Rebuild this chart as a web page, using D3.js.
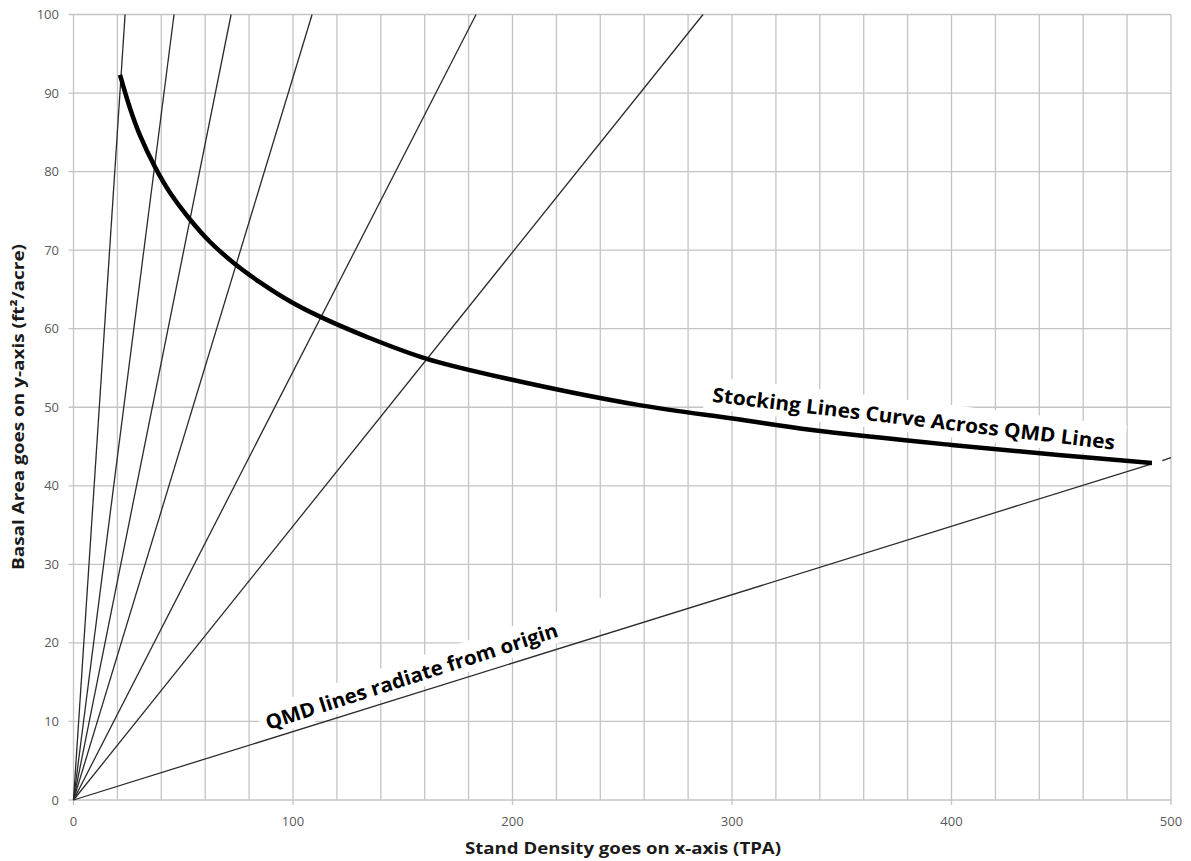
<!DOCTYPE html>
<html><head><meta charset="utf-8">
<script src="https://cdn.jsdelivr.net/npm/d3@7"></script>
<style>body{margin:0;background:#fff}svg{display:block}</style>
</head><body>
<svg id="chart" width="1191" height="861"></svg>
<script>
// ---- data ----
const xTicks = [0, 100, 200, 300, 400, 500];
const yTicks = [0, 10, 20, 30, 40, 50, 60, 70, 80, 90, 100];
const xMinorGrid = [20, 40, 60, 80, 120, 140, 160, 180, 220, 240, 260, 280, 320, 340, 360, 380, 420, 440, 460, 480];
// QMD lines: end points (TPA, BA); each starts at origin
const qmdEndTPA = [23.5, 45.8, 71.8, 108.7, 183.4, 286.8, 491.3];
const qmdEndBA  = [100, 100, 100, 100, 100, 100, 42.8];
const dashTPA = [496, 500];
const dashBA  = [43.2, 43.6];
// stocking curve
const curveTPA = [21.2, 25.7, 30.3, 37.1, 44, 53.1, 62, 73.3, 85, 98.6, 111.8, 133.3, 160.6, 198.3, 257.2, 302, 336.5, 400, 450, 491.3];
const curveBA  = [92.3, 88.1, 84.6, 80.6, 77.3, 73.9, 71.1, 68.3, 65.9, 63.5, 61.6, 59.0, 56.2, 53.6, 50.3, 48.5, 47.1, 45.2, 43.9, 42.9];
const xTitle = "Stand Density goes on x-axis (TPA)";
const yTitle = "Basal Area goes on y-axis (ft²/acre)";
const note1 = "Stocking Lines Curve Across QMD Lines";
const note2 = "QMD lines radiate from origin";

const svg = d3.select("#chart");
const x = d3.scaleLinear().domain([0, 500]).range([73.5, 1171]);
const y = d3.scaleLinear().domain([0, 100]).range([800, 14.5]);
const gridCol = "#c4c4c4";
const font = "'Open Sans', 'Noto Sans', sans-serif";

// grid
const g = svg.append("g");
g.selectAll("line.vmin").data(xMinorGrid).join("line")
  .attr("x1", d => x(d)).attr("x2", d => x(d)).attr("y1", y(0)).attr("y2", y(100))
  .attr("stroke", gridCol).attr("stroke-width", 1.3);
g.selectAll("line.vmaj").data(xTicks).join("line")
  .attr("x1", d => x(d)).attr("x2", d => x(d)).attr("y1", y(0) + 5).attr("y2", y(100))
  .attr("stroke", gridCol).attr("stroke-width", 1.3);
g.selectAll("line.h").data(yTicks).join("line")
  .attr("x1", x(0) - 5).attr("x2", x(500)).attr("y1", d => y(d)).attr("y2", d => y(d))
  .attr("stroke", gridCol).attr("stroke-width", 1.3);

// tick labels
svg.append("g").selectAll("text").data(xTicks).join("text")
  .attr("x", d => x(d)).attr("y", 826).attr("text-anchor", "middle")
  .attr("font-family", font).attr("font-size", 13).attr("fill", "#595959").text(d => d);
svg.append("g").selectAll("text").data(yTicks).join("text")
  .attr("x", 59).attr("y", d => y(d) + 4.5).attr("text-anchor", "end")
  .attr("font-family", font).attr("font-size", 13).attr("fill", "#595959").text(d => d);

// annotation backgrounds (white boxes) behind data
const a1 = {tpa: 290.8, ba: 50.7, ang: 6.8, len: 405};
const a2 = {tpa: 88.7, ba: 8.9, ang: -17.85, len: 306};
svg.append("rect")
  .attr("transform", `translate(${x(a1.tpa)},${y(a1.ba)}) rotate(${a1.ang})`)
  .attr("x", -8).attr("y", -25).attr("width", a1.len + 18).attr("height", 32).attr("fill", "#fff");
svg.append("rect")
  .attr("transform", `translate(${x(a2.tpa)},${y(a2.ba)}) rotate(${a2.ang})`)
  .attr("x", -6).attr("y", -24).attr("width", a2.len + 88).attr("height", 30).attr("fill", "#fff");

// QMD lines
const qmd = qmdEndTPA.map((t, i) => [[0, 0], [t, qmdEndBA[i]]]);
const line = d3.line().x(d => x(d[0])).y(d => y(d[1]));
svg.append("g").selectAll("path").data(qmd).join("path")
  .attr("d", line).attr("fill", "none").attr("stroke", "#2a2a2a").attr("stroke-width", 1.3);
svg.append("path").datum(dashTPA.map((t, i) => [t, dashBA[i]]))
  .attr("d", line).attr("fill", "none").attr("stroke", "#2a2a2a").attr("stroke-width", 1.3);

// stocking curve
const cpts = curveTPA.map((t, i) => [t, curveBA[i]]);
svg.append("path").datum(cpts)
  .attr("d", d3.line().x(d => x(d[0])).y(d => y(d[1])).curve(d3.curveCatmullRom.alpha(0.5)))
  .attr("fill", "none").attr("stroke", "#000").attr("stroke-width", 4.5).attr("stroke-linecap", "butt");

// annotations
svg.append("text")
  .attr("transform", `translate(${x(a1.tpa)},${y(a1.ba)}) rotate(${a1.ang})`)
  .attr("font-family", font).attr("font-weight", "bold").attr("font-size", 20)
  .attr("textLength", a1.len).attr("lengthAdjust", "spacingAndGlyphs").attr("fill", "#000").text(note1);
svg.append("text")
  .attr("transform", `translate(${x(a2.tpa)},${y(a2.ba)}) rotate(${a2.ang})`)
  .attr("font-family", font).attr("font-weight", "bold").attr("font-size", 20)
  .attr("textLength", a2.len).attr("lengthAdjust", "spacingAndGlyphs").attr("fill", "#000").text(note2);

// axis titles
svg.append("text").attr("x", 623).attr("y", 854).attr("text-anchor", "middle")
  .attr("font-family", font).attr("font-weight", "bold").attr("font-size", 16)
  .attr("textLength", 316).attr("lengthAdjust", "spacingAndGlyphs").attr("fill", "#1a1a1a").text(xTitle);
svg.append("text").attr("transform", `translate(24,${407}) rotate(-90)`).attr("text-anchor", "middle")
  .attr("font-family", font).attr("font-weight", "bold").attr("font-size", 16)
  .attr("textLength", 326).attr("lengthAdjust", "spacingAndGlyphs").attr("fill", "#1a1a1a").text(yTitle);
</script>
</body></html>
